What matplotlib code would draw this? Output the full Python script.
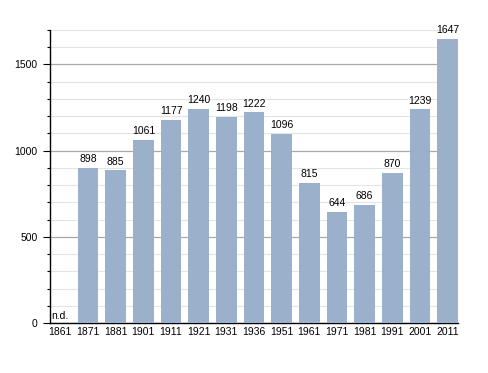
import matplotlib
matplotlib.use("Agg")
import matplotlib.pyplot as plt
from matplotlib.ticker import MultipleLocator

years = ["1861", "1871", "1881", "1901", "1911", "1921", "1931", "1936",
         "1951", "1961", "1971", "1981", "1991", "2001", "2011"]
population = [0, 898, 885, 1061, 1177, 1240, 1198, 1222,
              1096, 815, 644, 686, 870, 1239, 1647]
value_labels = ["n.d.", "898", "885", "1061", "1177", "1240", "1198", "1222",
                "1096", "815", "644", "686", "870", "1239", "1647"]

plt.rcParams['font.family'] = ['Liberation Sans', 'DejaVu Sans']

fig = plt.figure(figsize=(4.88, 3.73), dpi=100)
ax = fig.add_axes([50/488, 1 - 323/373, 408/488, 293/373])

x = list(range(len(years)))
ax.bar(x, population, width=0.75, color="#9ab0cb", zorder=3)

for i, (v, lab) in enumerate(zip(population, value_labels)):
    if lab == "n.d.":
        ax.text(i - 0.33, 12, lab, ha="left", va="bottom", fontsize=7.5, zorder=4)
    else:
        ax.text(i, v + 22, lab, ha="center", va="bottom", fontsize=7.5, zorder=4)

ax.set_xlim(-0.375, len(years) - 1 + 0.375)
ax.set_ylim(0, 1700)
ax.yaxis.set_major_locator(MultipleLocator(500))
ax.yaxis.set_minor_locator(MultipleLocator(100))
ax.grid(axis="y", which="minor", color="#e4e4e4", linewidth=0.8, zorder=0)
ax.grid(axis="y", which="major", color="#a8a8a8", linewidth=0.9, zorder=1)

ax.set_xticks(x)
ax.set_xticklabels(years, fontsize=7.5)
ax.tick_params(axis="x", length=0, pad=3)
ax.tick_params(axis="y", which="major", length=5, width=0.8, labelsize=7.5, pad=4)
ax.tick_params(axis="y", which="minor", length=2.5, width=0.8)

for s in ["top", "right"]:
    ax.spines[s].set_visible(False)
ax.spines["left"].set_linewidth(1.0)
ax.spines["bottom"].set_linewidth(1.0)
ax.set_facecolor("white")

fig.savefig("out.png", dpi=100)
